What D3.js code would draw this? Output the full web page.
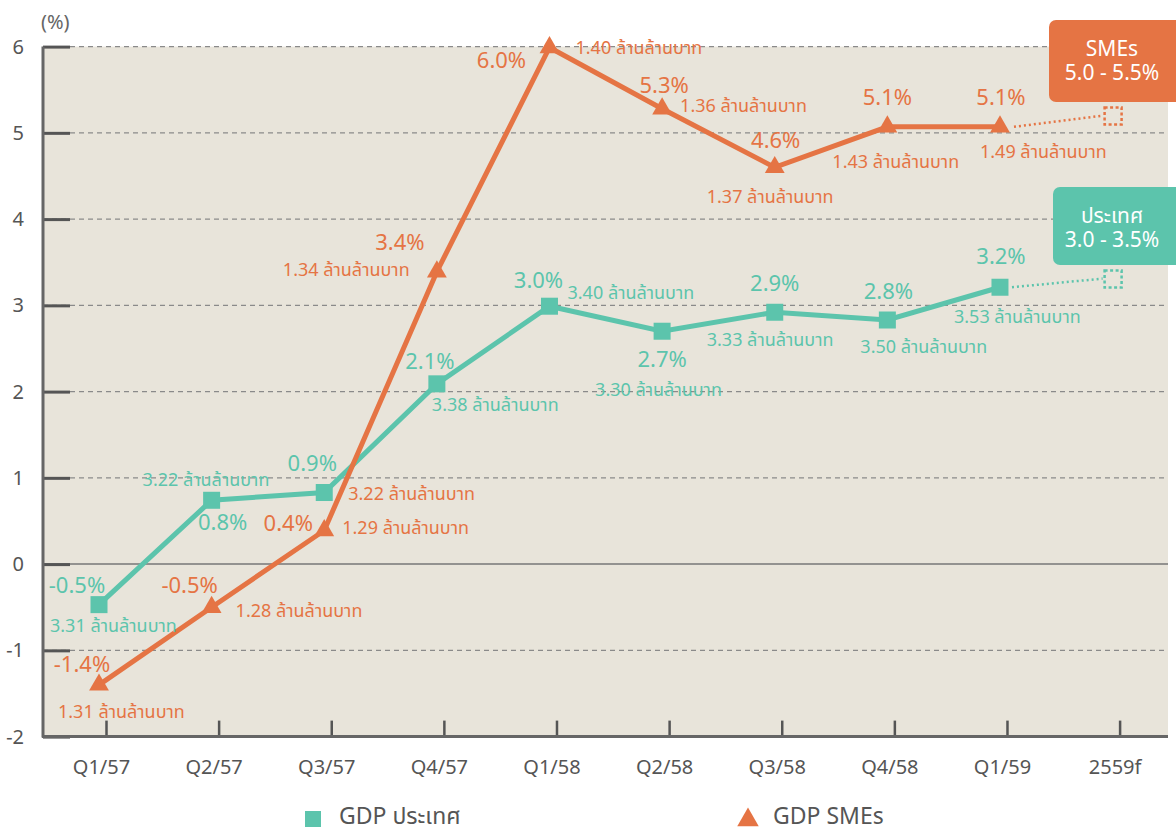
<!DOCTYPE html>
<html>
<head>
<meta charset="utf-8">
<script src="https://cdn.jsdelivr.net/npm/d3@7"></script>
<style>
  body { margin: 0; background: #fff; }
  text { font-family: Tahoma, "Noto Sans Thai", "Noto Sans", "DejaVu Sans", sans-serif; }
</style>
</head>
<body>
<div id="chart"></div>
<script>
(function () {

  // categories (quarters, Thai Buddhist-era years) plus the 2559 forecast
  var quarters = ["Q1/57", "Q2/57", "Q3/57", "Q4/57", "Q1/58", "Q2/58", "Q3/58", "Q4/58", "Q1/59", "2559f"]
  var yTicks = [-2, -1, 0, 1, 2, 3, 4, 5, 6]

  // GDP ประเทศ, growth % (plotted) and labels
  var gdpCountry = [-0.47, 0.74, 0.83, 2.09, 2.99, 2.70, 2.92, 2.83, 3.21]
  var gdpCountryPct = ["-0.5%", "0.8%", "0.9%", "2.1%", "3.0%", "2.7%", "2.9%", "2.8%", "3.2%"]
  var gdpCountryValue = ["3.31", "3.22", "3.22", "3.38", "3.40", "3.30", "3.33", "3.50", "3.53"]
  var gdpCountryForecast = 3.31

  // GDP SMEs
  var gdpSme = [-1.40, -0.50, 0.39, 3.39, 5.99, 5.28, 4.60, 5.07, 5.07]
  var gdpSmePct = ["-1.4%", "-0.5%", "0.4%", "3.4%", "6.0%", "5.3%", "4.6%", "5.1%", "5.1%"]
  var gdpSmeValue = ["1.31", "1.28", "1.29", "1.34", "1.40", "1.36", "1.37", "1.43", "1.49"]
  var gdpSmeForecast = 5.20

  var unit = " ล้านล้านบาท"
  var forecastSme = ["SMEs", "5.0 - 5.5%"]
  var forecastCountry = ["ประเทศ", "3.0 - 3.5%"]

  // label offsets relative to each point (layout only)
  var countryPctOff = [[-22, -12], [11, 30], [-12, -22], [-7, -15], [-11, -18], [0, 36], [0, -21], [1, -21], [1, -23]]
  var countryValOff = [[-49, 27], [-69, -14], [24, 7], [-5, 27], [18, -7], [-67, 65], [-68, 34], [-27, 33], [-46, 36]]
  var smePctOff = [[-17, -13], [-22, -14], [-36, 1], [-37, -22], [-48, 21], [2, -16], [1, -19], [0, -22], [1, -22]]
  var smeValOff = [[-41, 33], [24, 10], [18, 4], [-154, 4], [26, 7], [18, 3], [-68, 36], [-55, 41], [-20, 31]]

  var teal = "#5cc4ac", orange = "#e57444"

  var width = 1176, height = 833
  var plot = { left: 43, right: 1168, top: 46.6, bottom: 736.6 }

  var svg = d3.select("#chart").append("svg")
      .attr("width", width)
      .attr("height", height)

  var x = d3.scalePoint()
    .domain(quarters)
    .range([99, 1112.6])

  var y = d3.scaleLinear()
    .domain([-2, 6])
    .range([plot.bottom, plot.top])

  svg.append("rect")
    .attr("x", plot.left)
    .attr("y", plot.top)
    .attr("width", plot.right - plot.left)
    .attr("height", plot.bottom - plot.top)
    .attr("fill", "#e8e4da")

  // dashed grid
  svg.selectAll(".grid")
    .data(yTicks.filter(function (d) { return d !== 0 && d !== -2 }))
    .enter().append("line")
    .attr("x1", plot.left)
    .attr("x2", plot.right)
    .attr("y1", function (d) { return y(d) })
    .attr("y2", function (d) { return y(d) })
    .attr("stroke", "#8a8a8a")
    .attr("stroke-width", 1.3)
    .attr("stroke-dasharray", "5,4")

  // zero line
  svg.append("line")
    .attr("x1", plot.left).attr("x2", plot.right)
    .attr("y1", y(0)).attr("y2", y(0))
    .attr("stroke", "#777").attr("stroke-width", 1.5)

  // y axis
  var yAxis = d3.axisLeft(y).tickValues(yTicks).tickSize(-27).tickPadding(19)
  var gy = svg.append("g")
    .attr("transform", "translate(" + plot.left + ",0)")
    .call(yAxis)
  gy.select(".domain").remove()
  gy.selectAll("line").attr("stroke", "#555").attr("stroke-width", 3)
  gy.selectAll("text").attr("font-size", 20).attr("fill", "#555")

  // x axis
  var xAxis = d3.axisBottom(x).tickSize(-16).tickSizeOuter(0).tickPadding(23)
  var gx = svg.append("g")
    .attr("transform", "translate(0," + plot.bottom + ")")
    .call(xAxis)
  gx.select(".domain").remove()
  gx.selectAll("line").attr("x1", 7).attr("x2", 7).attr("stroke", "#555").attr("stroke-width", 2.5)
  gx.selectAll("text").attr("font-size", 20).attr("fill", "#555").attr("dx", 2)

  svg.append("line")
    .attr("x1", plot.left).attr("x2", plot.left)
    .attr("y1", plot.top).attr("y2", plot.bottom + 1)
    .attr("stroke", "#666").attr("stroke-width", 3)
  svg.append("line")
    .attr("x1", plot.left - 1).attr("x2", plot.right)
    .attr("y1", plot.bottom).attr("y2", plot.bottom)
    .attr("stroke", "#666").attr("stroke-width", 3)

  svg.append("text")
    .attr("x", 41).attr("y", 29)
    .attr("font-size", 20).attr("fill", "#666")
    .text("(%)")

  var line = d3.line()
    .x(function (d, i) { return x(quarters[i]) })
    .y(function (d) { return y(d) })

  // forecast dotted connectors + hollow markers
  function forecast(series, f, color, shift) {
    var last = series.length - 1
    svg.append("line")
      .attr("x1", x(quarters[last]) + shift).attr("y1", y(series[last]))
      .attr("x2", x(quarters[last + 1]) - 10).attr("y2", y(f))
      .attr("stroke", color).attr("stroke-width", 2.5)
      .attr("stroke-dasharray", "2,3")
    svg.append("rect")
      .attr("x", x(quarters[last + 1]) - 8).attr("y", y(f) - 8)
      .attr("width", 17).attr("height", 17)
      .attr("fill", "none").attr("stroke", color).attr("stroke-width", 2.5)
      .attr("stroke-dasharray", "3,2.5")
  }
  forecast(gdpCountry, gdpCountryForecast, teal, 12)
  forecast(gdpSme, gdpSmeForecast, orange, 14)

  svg.append("path")
    .datum(gdpCountry)
    .attr("d", line)
    .attr("fill", "none").attr("stroke", teal).attr("stroke-width", 5)

  svg.append("path")
    .datum(gdpSme)
    .attr("d", line)
    .attr("fill", "none").attr("stroke", orange).attr("stroke-width", 5)

  svg.selectAll(".sq")
    .data(gdpCountry)
    .enter().append("rect")
    .attr("x", function (d, i) { return x(quarters[i]) - 8.5 })
    .attr("y", function (d) { return y(d) - 8.5 })
    .attr("width", 17).attr("height", 17)
    .attr("fill", teal)

  var tri = d3.symbol().type(d3.symbolTriangle).size(170)
  svg.selectAll(".tri")
    .data(gdpSme)
    .enter().append("path")
    .attr("d", tri)
    .attr("transform", function (d, i) { return "translate(" + x(quarters[i]) + "," + y(d) + ")" })
    .attr("fill", orange)

  // labels
  function labels(series, pct, val, pctOff, valOff, color, valColors) {
    svg.selectAll(null)
      .data(series)
      .enter().append("text")
      .attr("x", function (d, i) { return x(quarters[i]) + pctOff[i][0] })
      .attr("y", function (d, i) { return y(d) + pctOff[i][1] })
      .attr("text-anchor", "middle")
      .attr("font-size", 22)
      .attr("fill", color)
      .text(function (d, i) { return pct[i] })
    svg.selectAll(null)
      .data(series)
      .enter().append("text")
      .attr("x", function (d, i) { return x(quarters[i]) + valOff[i][0] })
      .attr("y", function (d, i) { return y(d) + valOff[i][1] })
      .attr("font-size", 18)
      .attr("fill", function (d, i) { return valColors ? valColors[i] : color })
      .text(function (d, i) { return val[i] + unit })
  }
  labels(gdpCountry, gdpCountryPct, gdpCountryValue, countryPctOff, countryValOff, teal,
    gdpCountry.map(function (d, i) { return i === 2 ? orange : teal }))
  labels(gdpSme, gdpSmePct, gdpSmeValue, smePctOff, smeValOff, orange)

  // forecast boxes
  function box(top, h, left, color, lines) {
    svg.append("rect")
      .attr("x", left).attr("y", top)
      .attr("width", 1182 - left).attr("height", h)
      .attr("rx", 7)
      .attr("fill", color)
    svg.selectAll(null)
      .data(lines)
      .enter().append("text")
      .attr("x", 1112)
      .attr("y", function (d, i) { return top + 36 + i * 24 })
      .attr("text-anchor", "middle")
      .attr("font-size", 21)
      .attr("fill", "#fff")
      .text(function (d) { return d })
  }
  box(20, 82, 1049, orange, forecastSme)
  box(187, 78, 1053, teal, forecastCountry)

  // legend
  var legend = svg.append("g")
  legend.append("rect")
    .attr("x", 305).attr("y", 811).attr("width", 16).attr("height", 16)
    .attr("fill", teal)
  legend.append("text")
    .attr("x", 339).attr("y", 824)
    .attr("font-size", 23).attr("fill", "#555")
    .text("GDP ประเทศ")
  legend.append("path")
    .attr("d", d3.symbol().type(d3.symbolTriangle).size(200))
    .attr("transform", "translate(748,820)")
    .attr("fill", orange)
  legend.append("text")
    .attr("x", 773).attr("y", 824)
    .attr("font-size", 23).attr("fill", "#555")
    .text("GDP SMEs")

})()
</script>
</body>
</html>
